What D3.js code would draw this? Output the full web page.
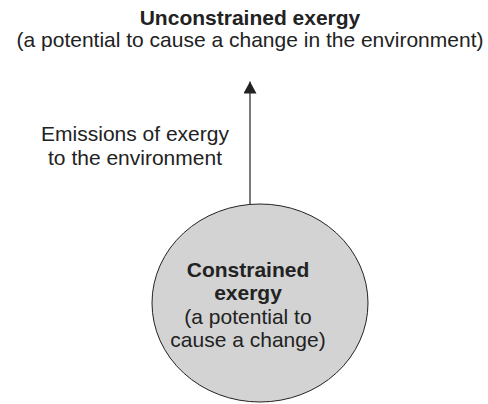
<!DOCTYPE html>
<html>
<head>
<meta charset="utf-8">
<script src="https://cdn.jsdelivr.net/npm/d3@7"></script>
<style>
  body { margin: 0; background: #fff; }
  text { font-family: "Liberation Sans", Arial, sans-serif; fill: #222; font-size: 21px; }
</style>
</head>
<body>
<div id="diagram"></div>
<script>
var titleLines = ["Unconstrained exergy", "(a potential to cause a change in the environment)"];
var emissionLines = ["Emissions of exergy", "to the environment"];
var nodeLines = ["Constrained", "exergy", "(a potential to", "cause a change)"];
var boldLines = [true, true, false, false];

var width = 488;
var height = 404;

var svg = d3.select("#diagram").append("svg")
    .attr("width", width)
    .attr("height", height);

// arrowhead
svg.append("defs").append("marker")
    .attr("id", "head")
    .attr("viewBox", "0 0 12 13")
    .attr("refX", 12)
    .attr("refY", 6.5)
    .attr("markerUnits", "userSpaceOnUse")
    .attr("markerWidth", 12)
    .attr("markerHeight", 13)
    .attr("orient", "auto")
    .append("path")
    .attr("d", "M0,0L12,6.5L0,13Z")
    .attr("fill", "#222");

// title
svg.selectAll(".title")
    .data(titleLines)
    .enter()
    .append("text")
    .attr("class", "title")
    .attr("x", 250)
    .attr("y", function (d, i) { return 25 + i * 21.5; })
    .attr("text-anchor", "middle")
    .style("font-weight", function (d, i) { return i == 0 ? "bold" : "normal"; })
    .text(function (d) { return d; });

// arrow
svg.append("line")
    .attr("x1", 250)
    .attr("y1", 205)
    .attr("x2", 250)
    .attr("y2", 81.5)
    .attr("stroke", "#333")
    .attr("stroke-width", 1.3)
    .attr("marker-end", "url(#head)");

svg.selectAll(".emis")
    .data(emissionLines)
    .enter()
    .append("text")
    .attr("class", "emis")
    .attr("x", 135)
    .attr("y", function (d, i) { return 141 + i * 24; })
    .attr("text-anchor", "middle")
    .text(function (d) { return d; });

// ellipse
svg.append("ellipse")
    .attr("cx", 260)
    .attr("cy", 303)
    .attr("rx", 108)
    .attr("ry", 99)
    .attr("fill", "#d3d3d3")
    .attr("stroke", "#222")
    .attr("stroke-width", 1);

svg.selectAll(".node")
    .data(nodeLines)
    .enter()
    .append("text")
    .attr("class", "node")
    .attr("x", 248)
    .attr("y", function (d, i) { return 277 + i * 23.3; })
    .attr("text-anchor", "middle")
    .style("font-weight", function (d, i) { return boldLines[i] ? "bold" : "normal"; })
    .text(function (d) { return d; });
</script>
</body>
</html>
